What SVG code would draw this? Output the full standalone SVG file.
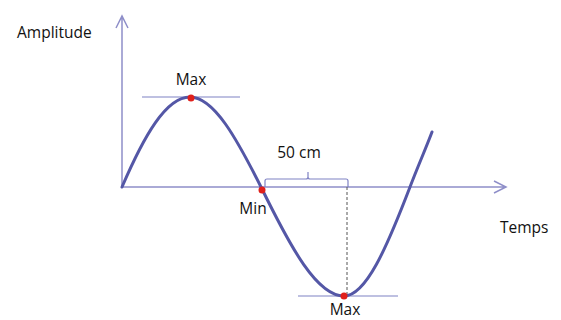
<svg xmlns="http://www.w3.org/2000/svg" width="561" height="320" viewBox="0 0 561 320">
<style>
.ax{stroke:#8f8fc9;stroke-width:1.5;fill:none}
.thin{stroke:#7f82c4;stroke-width:1.2;fill:none}
.curve{stroke:#5457a6;stroke-width:3;fill:none;stroke-linecap:round}
.dot{fill:#e0201b}
text{font-family:"Open Sans","Liberation Sans",sans-serif;font-size:15.5px;fill:#111}
</style>
<rect width="561" height="320" fill="#fff"/>
<g id="axes">
<path class="ax" d="M122,187 V16 M116,28 L122,16 L128,28"/>
<path class="ax" d="M122,187 H506 M494,181 L506,187 L494,193"/>
</g>
<g id="guides">
<path class="thin" d="M142,97 H240"/>
<path class="thin" d="M298,296 H398"/>
<path class="thin" d="M265,187 V181 Q265,179 267,179 H306 Q308,179 308,177 V172 M308,177 Q308,179 310,179 H346 Q348,179 348,181 V187"/>
<path d="M347,187 V296" stroke="#555" stroke-width="1" stroke-dasharray="3,2" fill="none"/>
</g>
<g id="wave">
<path class="curve" d="M122,187 C144,136 166,97 190,97 C214,97 237,139 262,189 C291,248 317,296 344,296 C366,296 387,247 410,187 C418,166 426,148 432,132"/>
</g>
<g id="points">
<circle class="dot" cx="191" cy="98" r="3.5"/>
<circle class="dot" cx="262" cy="190" r="3.5"/>
<circle class="dot" cx="344" cy="296" r="3.5"/>
</g>
<g id="labels">
<text x="17" y="38">Amplitude</text>
<text x="191" y="85" text-anchor="middle">Max</text>
<text x="299" y="158" text-anchor="middle">50 cm</text>
<text x="253" y="214" text-anchor="middle">Min</text>
<text x="500" y="233">Temps</text>
<text x="345" y="315" text-anchor="middle">Max</text>
</g>
</svg>
